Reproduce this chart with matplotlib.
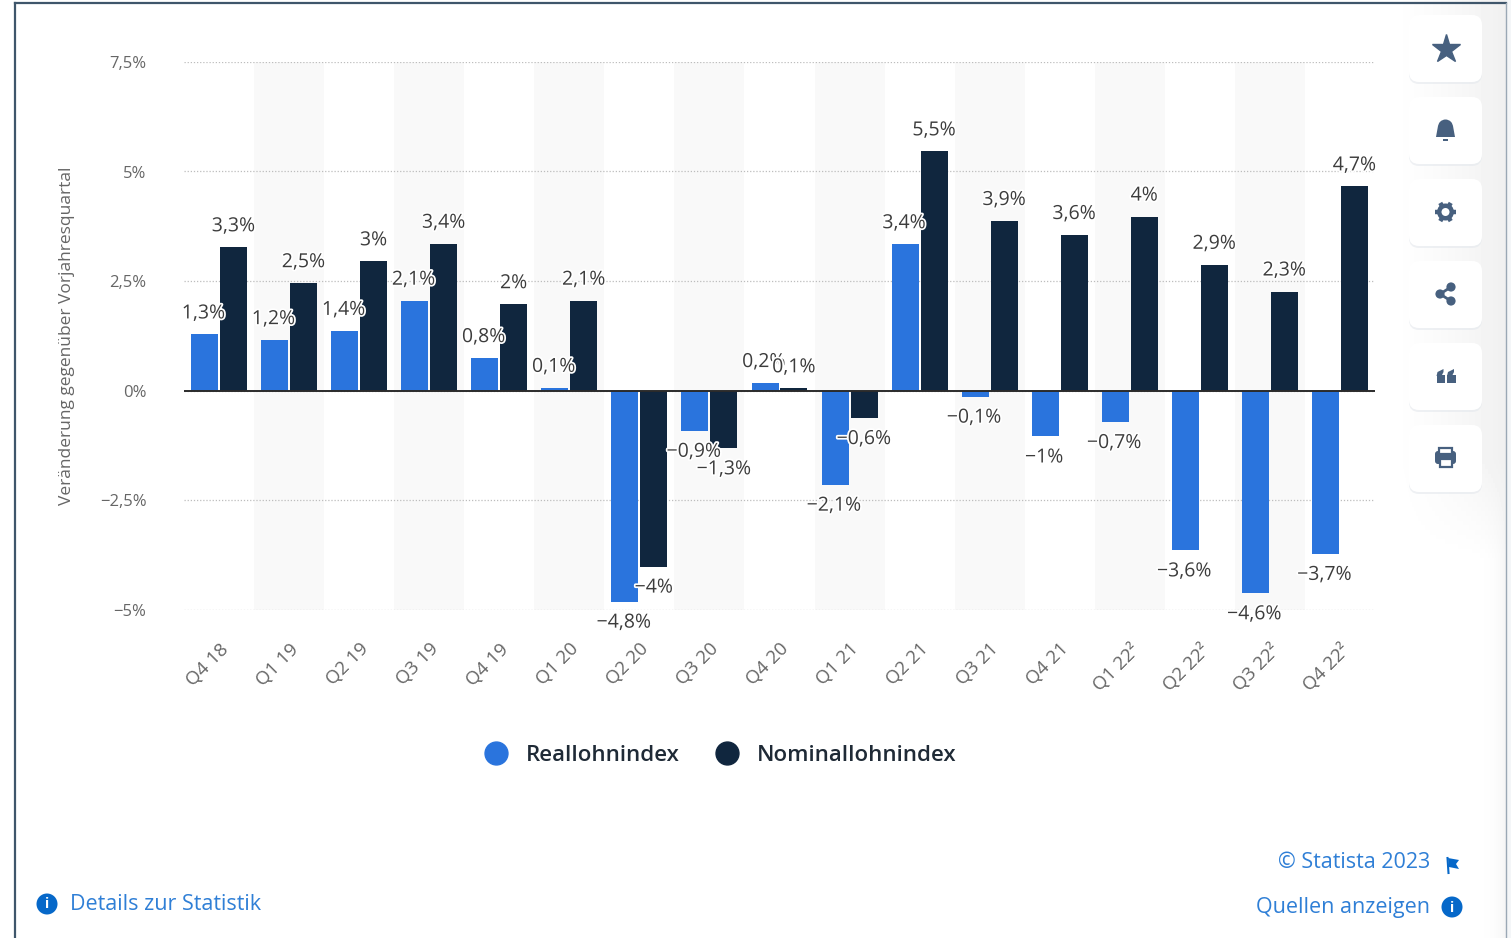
import numpy as np
import matplotlib

matplotlib.use('Agg')
import matplotlib.pyplot as plt
import matplotlib.patheffects as pe
from matplotlib.lines import Line2D
from matplotlib.patches import Circle, FancyBboxPatch, Polygon, Rectangle, Wedge

plt.rcParams['font.family'] = ['Open Sans', 'DejaVu Sans']

quarters = ['Q4 18', 'Q1 19', 'Q2 19', 'Q3 19', 'Q4 19', 'Q1 20', 'Q2 20', 'Q3 20', 'Q4 20',
            'Q1 21', 'Q2 21', 'Q3 21', 'Q4 21', 'Q1 22²', 'Q2 22²', 'Q3 22²', 'Q4 22²']
real_values = [1.28, 1.15, 1.36, 2.05, 0.74, 0.06, -4.82, -0.92, 0.17,
               -2.15, 3.34, -0.14, -1.05, -0.72, -3.65, -4.63, -3.73]
nominal_values = [3.27, 2.45, 2.95, 3.35, 1.97, 2.05, -4.02, -1.32, 0.05,
                  -0.63, 5.46, 3.87, 3.55, 3.97, 2.87, 2.26, 4.66]
real_labels = ['1,3%', '1,2%', '1,4%', '2,1%', '0,8%', '0,1%', '−4,8%', '−0,9%', '0,2%',
               '−2,1%', '3,4%', '−0,1%', '−1%', '−0,7%', '−3,6%', '−4,6%', '−3,7%']
nominal_labels = ['3,3%', '2,5%', '3%', '3,4%', '2%', '2,1%', '−4%', '−1,3%', '0,1%',
                  '−0,6%', '5,5%', '3,9%', '3,6%', '4%', '2,9%', '2,3%', '4,7%']
y_ticks = [-5, -2.5, 0, 2.5, 5, 7.5]
y_tick_labels = ['−5%', '−2,5%', '0%', '2,5%', '5%', '7,5%']
series_names = ['Reallohnindex', 'Nominallohnindex']

BLUE = '#2a74dd'
NAVY = '#10263e'
ICON = '#47607f'
LINK = '#2f7fd6'
INFO = '#0668c9'
W, H = 1511, 938

fig = plt.figure(figsize=(W / 100, H / 100), dpi=100, facecolor='white')

# page furniture in pixel coordinates
ov = fig.add_axes([0, 0, 1, 1], zorder=0)
ov.set_xlim(0, W)
ov.set_ylim(H, 0)
ov.axis('off')

# soft shade behind the button column
gx = np.clip(np.linspace(-0.05, 1, 130), 0, 1)
gy = np.clip((560 - np.linspace(0, H, 200)) / 100, 0, 1)
shade = np.outer(gy, gx ** 1.5) * 0.06 + np.outer(1 - gy, gx ** 12) * 0.04
ov.imshow(1 - shade, cmap='gray', vmin=0, vmax=1, extent=(1376, 1506, H, 0), aspect='auto', zorder=0)
ov.set_xlim(0, W)
ov.set_ylim(H, 0)
ov.add_patch(Rectangle((1506, 0), 5, H, color='#f4f6f8', lw=0, zorder=1))
ov.plot([15, 15], [3, H], color='#3f566b', lw=1.6, zorder=2)
ov.plot([15, 1505.5], [3, 3], color='#3f566b', lw=1.6, zorder=2)
ov.plot([1505.5, 1505.5], [3, H], color='#9aa8b5', lw=1.0, zorder=2)

for top in [15, 97, 179, 261, 343, 425]:
    ov.add_patch(FancyBboxPatch((1409, top + 2), 73, 67, boxstyle='round,pad=0,rounding_size=10',
                                fc='#e4e8ed', ec='none', alpha=0.6, zorder=3))
    ov.add_patch(FancyBboxPatch((1409, top), 73, 67, boxstyle='round,pad=0,rounding_size=10',
                                fc='white', ec='none', zorder=4))

# star
ov.plot(1445.5, 49, marker='*', ms=21, color=ICON, mec=ICON, zorder=5)
# bell
ov.add_patch(Wedge((1445.5, 127), 7.5, 180, 360, color=ICON, lw=0, zorder=5))
ov.add_patch(Polygon([(1438, 126), (1453, 126), (1455, 137), (1436, 137)], color=ICON, lw=0, zorder=5))
ov.add_patch(Rectangle((1443, 139), 5, 2, color=ICON, lw=0, zorder=5))
# gear
for ang in np.arange(0, 180, 60):
    dx, dy = 10.5 * np.cos(np.radians(ang)), 10.5 * np.sin(np.radians(ang))
    ov.plot([1445.5 - dx, 1445.5 + dx], [212 - dy, 212 + dy], color=ICON, lw=3.2, zorder=5, solid_capstyle='butt')
ov.add_patch(Circle((1445.5, 212), 8.5, color=ICON, lw=0, zorder=5))
ov.add_patch(Circle((1445.5, 212), 4, color='white', lw=0, zorder=6))
# share
ov.plot([1451, 1440, 1451], [287, 294, 301], color=ICON, lw=2, zorder=5)
for cx, cy in [(1451, 287), (1440, 294), (1451, 301)]:
    ov.add_patch(Circle((cx, cy), 4.6, color=ICON, lw=0, zorder=5))
# quote marks
for cx in [1440.5, 1451]:
    ov.add_patch(Rectangle((cx - 4, 375), 8.5, 8, color=ICON, lw=0, zorder=5))
    ov.add_patch(Polygon([(cx - 4, 376), (cx - 3, 372), (cx + 3, 369), (cx + 3, 372), (cx + 1, 376)],
                         color=ICON, lw=0, zorder=5))
# printer
ov.add_patch(FancyBboxPatch((1435, 451), 21, 13, boxstyle='round,pad=0,rounding_size=3', fc=ICON, ec='none', zorder=5))
ov.add_patch(Rectangle((1439, 448), 13, 6, fc='white', ec=ICON, lw=1.6, zorder=5))
ov.add_patch(Rectangle((1439.5, 459), 12, 8, fc='white', ec=ICON, lw=1.6, zorder=6))


def info_icon(x, y):
    ov.add_patch(Circle((x, y), 10.5, color=INFO, lw=0, zorder=5))
    ov.text(x, y + 0.5, 'i', color='white', fontsize=10, fontweight='bold', ha='center', va='center', zorder=6)


info_icon(47, 904)
info_icon(1452, 907)
ov.plot([1447.5, 1448.5], [858, 873], color=INFO, lw=1.5, zorder=5)
ov.add_patch(Polygon([(1448, 858), (1459, 860), (1456, 864), (1459, 869), (1449, 867)], color=INFO, lw=0, zorder=5))

ov.text(70, 904, 'Details zur Statistik', color=LINK, fontsize=15.5, ha='left', va='center')
ov.text(1430, 863, '© Statista 2023', color=LINK, fontsize=15.5, ha='right', va='center')
ov.text(1430, 907, 'Quellen anzeigen', color=LINK, fontsize=15.5, ha='right', va='center')

# chart
ax = fig.add_axes([184 / W, 1 - 609.5 / H, (1375 - 184) / W, (609.5 - 62) / H], zorder=2)
ax.patch.set_alpha(0)
x = np.arange(len(quarters))
bar_width = 27 / 70.06
step = 29 / 70.06 / 2

for i in x[1::2]:
    ax.axvspan(i - 0.5, i + 0.5, color='#f9f9f9', lw=0, zorder=0)

ax.bar(x - step, real_values, bar_width, color=BLUE, zorder=2)
ax.bar(x + step, nominal_values, bar_width, color=NAVY, zorder=2)
ax.axhline(0, color='#2b2b2b', lw=1.4, zorder=3)

ax.set_xlim(-0.5, len(quarters) - 0.5)
ax.set_ylim(-5, 7.5)
ax.set_yticks(y_ticks, y_tick_labels)
ax.set_xticks(x, quarters)
ax.grid(axis='y', color='#bdbdbd', linestyle=(0, (1, 1.5)), lw=0.9, zorder=1)
ax.tick_params(length=0)
ax.tick_params(axis='y', labelsize=12, labelcolor='#666666', pad=27)
ax.tick_params(axis='x', labelsize=13.5, labelcolor='#666666', pad=22)
plt.setp(ax.get_xticklabels(), rotation=45, ha='right', rotation_mode='anchor')
for side in ax.spines.values():
    side.set_visible(False)
ax.set_ylabel('Veränderung gegenüber Vorjahresquartal', fontsize=12.5, color='#666666')
ax.yaxis.set_label_coords((75 - 184) / (1375 - 184), (609.5 - 336) / (609.5 - 62))

halo = [pe.withStroke(linewidth=2.5, foreground='white')]
for offset, vals, labels, nudge in [(-step, real_values, real_labels, -1), (step, nominal_values, nominal_labels, 0)]:
    for i, (v, lab) in enumerate(zip(vals, labels)):
        sign = 1 if v >= 0 else -1
        ax.annotate(lab, (i + offset, v), xytext=(nudge, 21 * sign), textcoords='offset pixels',
                    ha='center', va='center', fontsize=14, color='#3c3c3c', zorder=6,
                    path_effects=halo, annotation_clip=False)

handles = [Line2D([], [], ls='', marker='o', ms=16.5, color=c) for c in (BLUE, NAVY)]
leg = ax.legend(handles, series_names, loc='center', ncol=2, frameon=False,
                bbox_to_anchor=((715 - 184) / (1375 - 184), (609.5 - 755.5) / (609.5 - 62)),
                prop={'size': 16, 'weight': 'semibold'}, handletextpad=0.35, columnspacing=1.1, labelcolor='#1f2a36')

fig.savefig('out.png', dpi=100)
